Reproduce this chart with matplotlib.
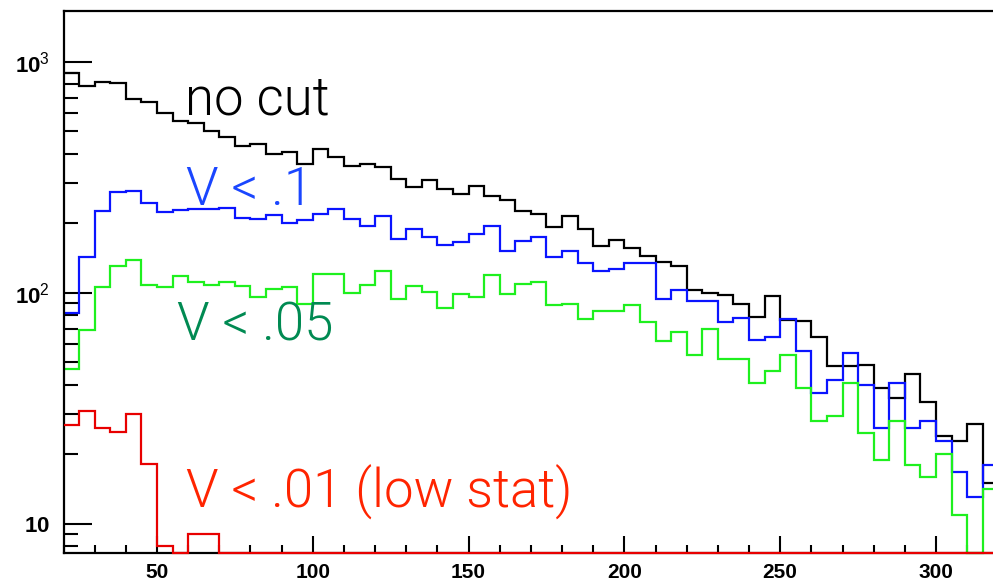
import numpy as np
import matplotlib
matplotlib.use("Agg")
import matplotlib.pyplot as plt
from matplotlib.ticker import FixedLocator, FixedFormatter, MultipleLocator, LogLocator, NullFormatter

plt.rcParams['mathtext.fontset'] = 'custom'
plt.rcParams['mathtext.rm'] = 'Liberation Sans'
plt.rcParams['mathtext.bf'] = 'Liberation Sans:bold'

# bin edges: 20 .. 320, width 5
edges = np.arange(20, 325, 5)

no_cut = [894, 787, 822, 809, 689, 669, 600, 557, 546, 502, 475, 434, 442, 398, 406,
          361, 420, 386, 355, 361, 352, 312, 287, 309, 282, 268, 289, 263, 253, 227,
          219, 192, 216, 189, 160, 169, 156, 144, 136, 131, 103, 100, 98, 89.6, 78.9,
          97, 76.3, 75.9, 64.3, 48, 48, 48.7, 38.7, 35, 44.5, 33.8, 24, 22.9, 27.1, 15]
v_01 = [81.7, 143.6, 227, 273, 276, 246, 225, 229, 231, 230, 233, 211, 209, 218, 200,
        207, 219, 230, 209, 194, 215, 171, 190, 175, 162, 166, 179, 194, 152, 167,
        175, 143.6, 152, 135, 125, 127, 134.5, 134.5, 94, 103, 92.3, 92.3, 74.7, 77.7, 62.6,
        64.7, 76.9, 56.1, 36.8, 42, 54.8, 40, 26.1, 40.6, 26, 28, 22.9, 16.8, 13, 18]
v_005 = [46.9, 68.8, 106, 131, 139, 108, 106, 118, 111, 108, 111, 107, 96, 104, 106,
         89.6, 121, 121, 99.8, 108, 124, 94, 107, 101, 85.9, 98.7, 95.7, 120, 98.7, 109,
         111, 88.4, 89.9, 76.9, 83.8, 83.8, 88.4, 75.1, 62, 68, 53.6, 69.9, 51.8, 51.8, 40.9,
         46.1, 54, 38.7, 27.9, 29.2, 40.9, 24.8, 18.9, 28, 18, 16, 20.1, 10.9, 0, 14.1]
v_001 = [26.8, 30.9, 25.9, 24.9, 30, 18.1, 8.0, 0, 9.0, 9.0] + [0] * 50

y_lo, y_hi = 7.47, 1663

fig = plt.figure(figsize=(9.93, 5.84), dpi=100)
W, H = 993, 584
ax = fig.add_axes([63.5 / W, (H - 553) / H, (998.3 - 63.5) / W, (553 - 11) / H])
ax.set_yscale('log')
ax.set_xlim(20, 320)
ax.set_ylim(y_lo, y_hi)

series = [(no_cut, 'black', 2), (v_01, '#0a14ff', 2), (v_005, '#1ef01e', 2), (v_001, '#e80000', 4)]
for vals, col, z in series:
    v = np.maximum(np.array(vals, dtype=float), y_lo)
    ax.stairs(v, edges, baseline=None, color=col, lw=1.6, zorder=z, clip_on=False)

for s in ax.spines.values():
    s.set_linewidth(1.6)
ax.spines['right'].set_visible(False)

# ticks
ax.xaxis.set_major_locator(MultipleLocator(50))
ax.xaxis.set_minor_locator(MultipleLocator(10))
ax.yaxis.set_major_locator(FixedLocator([10, 100, 1000]))
ax.yaxis.set_major_formatter(FixedFormatter([r'$\mathbf{10}$', r'$\mathbf{10}^{2}$', r'$\mathbf{10}^{3}$']))
ax.yaxis.set_minor_locator(LogLocator(base=10, subs=np.arange(2, 10)))
ax.yaxis.set_minor_formatter(NullFormatter())
ax.tick_params(axis='x', which='major', direction='in', length=12, width=1.5, pad=7,
               labelsize=15, top=False)
ax.tick_params(axis='x', which='minor', direction='in', length=6, width=1.5, top=False)
ax.tick_params(axis='y', which='major', direction='in', length=20, width=1.5, pad=10,
               labelsize=16, right=False)
ax.tick_params(axis='y', which='minor', direction='in', length=10, width=1.5, right=False)
for lab in ax.get_xticklabels():
    lab.set_fontfamily('Liberation Sans')
    lab.set_fontweight('bold')

tfont = dict(family=['Roboto', 'DejaVu Sans'], weight=300, fontsize=38, va='baseline', ha='left')
ax.text(59.0, 590, 'no cut', color='black', **tfont)
ax.text(59.3, 240, 'V < .1', color='#1a46ff', **tfont)
ax.text(56.3, 62, 'V < .05', color='#008a52', **tfont)
ax.text(59.3, 11.7, 'V < .01 (low stat)', color='#ff2400', **tfont)

fig.savefig('out.png', dpi=100)
